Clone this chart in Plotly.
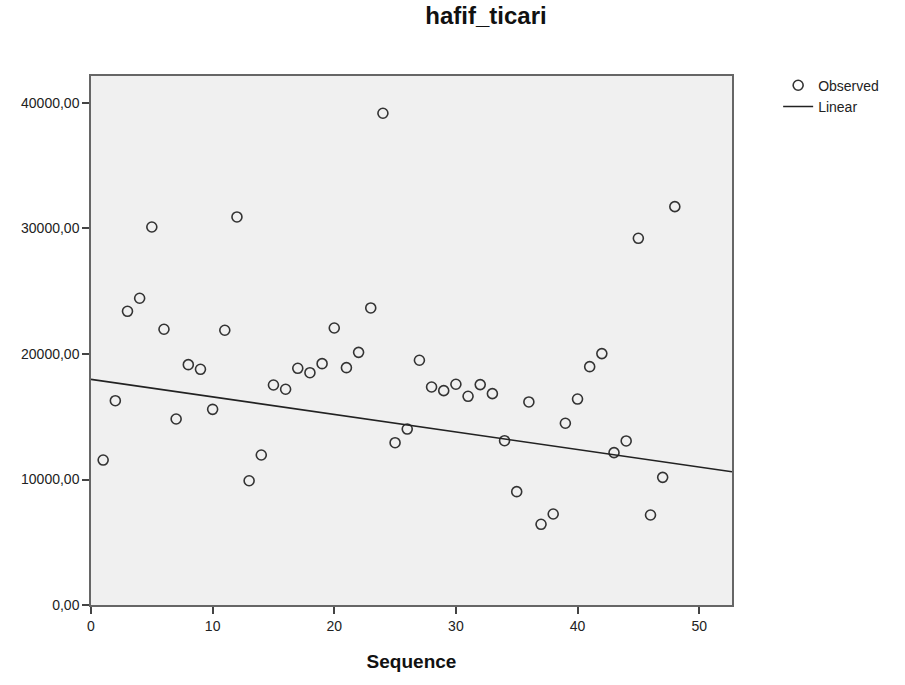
import numpy as np
import plotly.graph_objects as go

# Sequence index and observed values of hafif_ticari
sequence = list(range(1, 49))
observed = [
    11550, 16280, 23400, 24440, 30120, 21970, 14820, 19150, 18780, 15590,
    21890, 30920, 9900, 11950, 17530, 17190, 18860, 18510, 19230, 22070,
    18910, 20130, 23670, 39180, 12930, 14020, 19500, 17370, 17080, 17590,
    16630, 17560, 16840, 13090, 9030, 16180, 6430, 7250, 14480, 16410,
    18990, 20030, 12140, 13070, 29220, 7170, 10170, 31740,
]

# Estimated linear model: hafif_ticari = b0 + b1 * Sequence
linear_b0 = 17980.0
linear_b1 = -139.7

x_range = [0, 52.7]
y_range = [0, 42150]
x_ticks = [0, 10, 20, 30, 40, 50]
y_ticks = [0, 10000, 20000, 30000, 40000]

fit_x = np.array(x_range)
fit_y = linear_b0 + linear_b1 * fit_x

FONT = "Liberation Sans, Arial, sans-serif"

fig = go.Figure()
fig.add_trace(go.Scatter(
    x=sequence, y=observed, mode="markers", name="Observed",
    marker=dict(symbol="circle-open", size=10, color="#333333",
                line=dict(width=1.6, color="#333333")),
))
fig.add_trace(go.Scatter(
    x=fit_x, y=fit_y, mode="lines", name="Linear",
    line=dict(color="#222222", width=1.6),
))

axis_common = dict(
    showgrid=False, zeroline=False, showline=True, mirror=True,
    linecolor="#666666", linewidth=1.5, ticks="outside", ticklen=7,
    tickcolor="#444444", tickwidth=1.5,
    tickfont=dict(family=FONT, size=14, color="#222222"),
)

fig.update_layout(
    width=905, height=685,
    margin=dict(l=91, r=173, t=76, b=80),
    paper_bgcolor="white", plot_bgcolor="#f0f0f0",
    separators=", ",
    font=dict(family=FONT, color="#222222"),
    title=dict(text="<b>hafif_ticari</b>", x=486 / 905, xref="container", xanchor="center",
               y=1 - 16 / 685, yref="container", yanchor="middle",
               font=dict(size=24, color="#111111")),
    xaxis=dict(range=x_range, tickvals=x_ticks, **axis_common,
               title=dict(text="<b>Sequence</b>", standoff=22,
                          font=dict(size=19, color="#111111"))),
    yaxis=dict(range=y_range, tickvals=y_ticks, tickformat=".2f", **axis_common),
    legend=dict(x=1.072, y=1.012, xanchor="left", yanchor="top",
                bgcolor="rgba(0,0,0,0)", font=dict(size=14, color="#222222"),
                tracegroupgap=0, itemwidth=30),
    showlegend=True,
)

fig.write_html("out.html")
